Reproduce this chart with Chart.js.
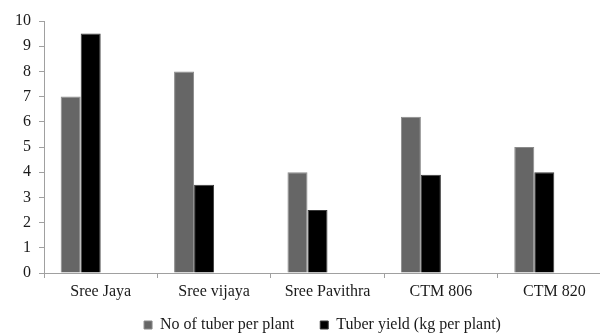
<!DOCTYPE html>
<html>
<head>
<meta charset="utf-8">
<script src="https://cdn.jsdelivr.net/npm/chart.js@4"></script>
<style>
  html, body { margin: 0; padding: 0; background: #fff; overflow: hidden; width: 600px; height: 336px; }
  #wrap { width: 612px; height: 336px; }
</style>
</head>
<body>
<div id="wrap"><canvas id="c" width="612" height="336"></canvas></div>
<script>
const categories = ['Sree Jaya', 'Sree vijaya', 'Sree Pavithra', 'CTM 806', 'CTM 820'];
const tuberCount = [7, 8, 4, 6.2, 5];
const tuberYield = [9.5, 3.5, 2.5, 3.9, 4];
const seriesNames = ['No of tuber per plant', 'Tuber yield (kg per plant)'];
const yTicks = [0, 1, 2, 3, 4, 5, 6, 7, 8, 9, 10];

const FONT = '"Liberation Serif", serif';

const legendFix = {
  id: 'legendFix',
  afterInit(chart) {
    const lg = chart.legend;
    if (!lg) return;
    const origFit = lg.fit.bind(lg);
    lg.fit = function () { origFit(); this.height = 33; };
    const origDraw = lg.draw.bind(lg);
    lg.draw = function () {
      const t = this.top, l = this.left, r = this.right;
      this.top = t - 12;
      this.left = l - 5;
      this.right = r - 5;
      origDraw();
      this.top = t; this.left = l; this.right = r;
    };
  }
};

function draw() {
  new Chart(document.getElementById('c'), {
    type: 'bar',
    plugins: [legendFix],
    data: {
      labels: categories,
      datasets: [
        { label: seriesNames[0], data: tuberCount, backgroundColor: '#666666', borderColor: '#8a8a8a', borderWidth: 1, borderSkipped: 'bottom' },
        { label: seriesNames[1], data: tuberYield, backgroundColor: '#000000', borderColor: '#3a3a3a', borderWidth: 1, borderSkipped: 'bottom' },
        { label: '', data: [], backgroundColor: 'rgba(0,0,0,0)' },
        { label: '', data: [], backgroundColor: 'rgba(0,0,0,0)' }
      ]
    },
    options: {
      responsive: false,
      animation: false,
      layout: { padding: { top: 21, right: 1, left: 0, bottom: 0 } },
      datasets: { bar: { categoryPercentage: 0.706, barPercentage: 1.0 } },
      scales: {
        x: {
          grid: { display: true, drawOnChartArea: false, drawTicks: true, tickLength: 5, color: '#a0a0a0', offset: true },
          border: { display: true, color: '#a0a0a0', width: 1 },
          ticks: { color: '#1a1a1a', font: { family: FONT, size: 16 }, padding: 4, maxRotation: 0, autoSkip: false },
          afterFit: (s) => { s.height = 30; }
        },
        y: {
          min: 0, max: 10,
          afterBuildTicks: (s) => { s.ticks = yTicks.map(v => ({ value: v })); },
          grid: { display: true, drawOnChartArea: false, drawTicks: true, tickLength: 5, color: '#a0a0a0' },
          border: { display: true, color: '#a0a0a0', width: 1 },
          ticks: { color: '#1a1a1a', font: { family: FONT, size: 16 }, padding: 8 },
          afterFit: (s) => { s.width = 44; }
        }
      },
      plugins: {
        tooltip: { enabled: false },
        legend: {
          position: 'bottom',
          fullSize: false,
          labels: {
            color: '#1a1a1a',
            font: { family: FONT, size: 16 },
            boxWidth: 8, boxHeight: 8, padding: 26,
            filter: (item) => item.text !== ''
          }
        }
      }
    }
  });
}

if (document.fonts && document.fonts.load) {
  document.fonts.load('16px "Liberation Serif"').then(draw, draw);
} else {
  draw();
}
</script>
</body>
</html>
